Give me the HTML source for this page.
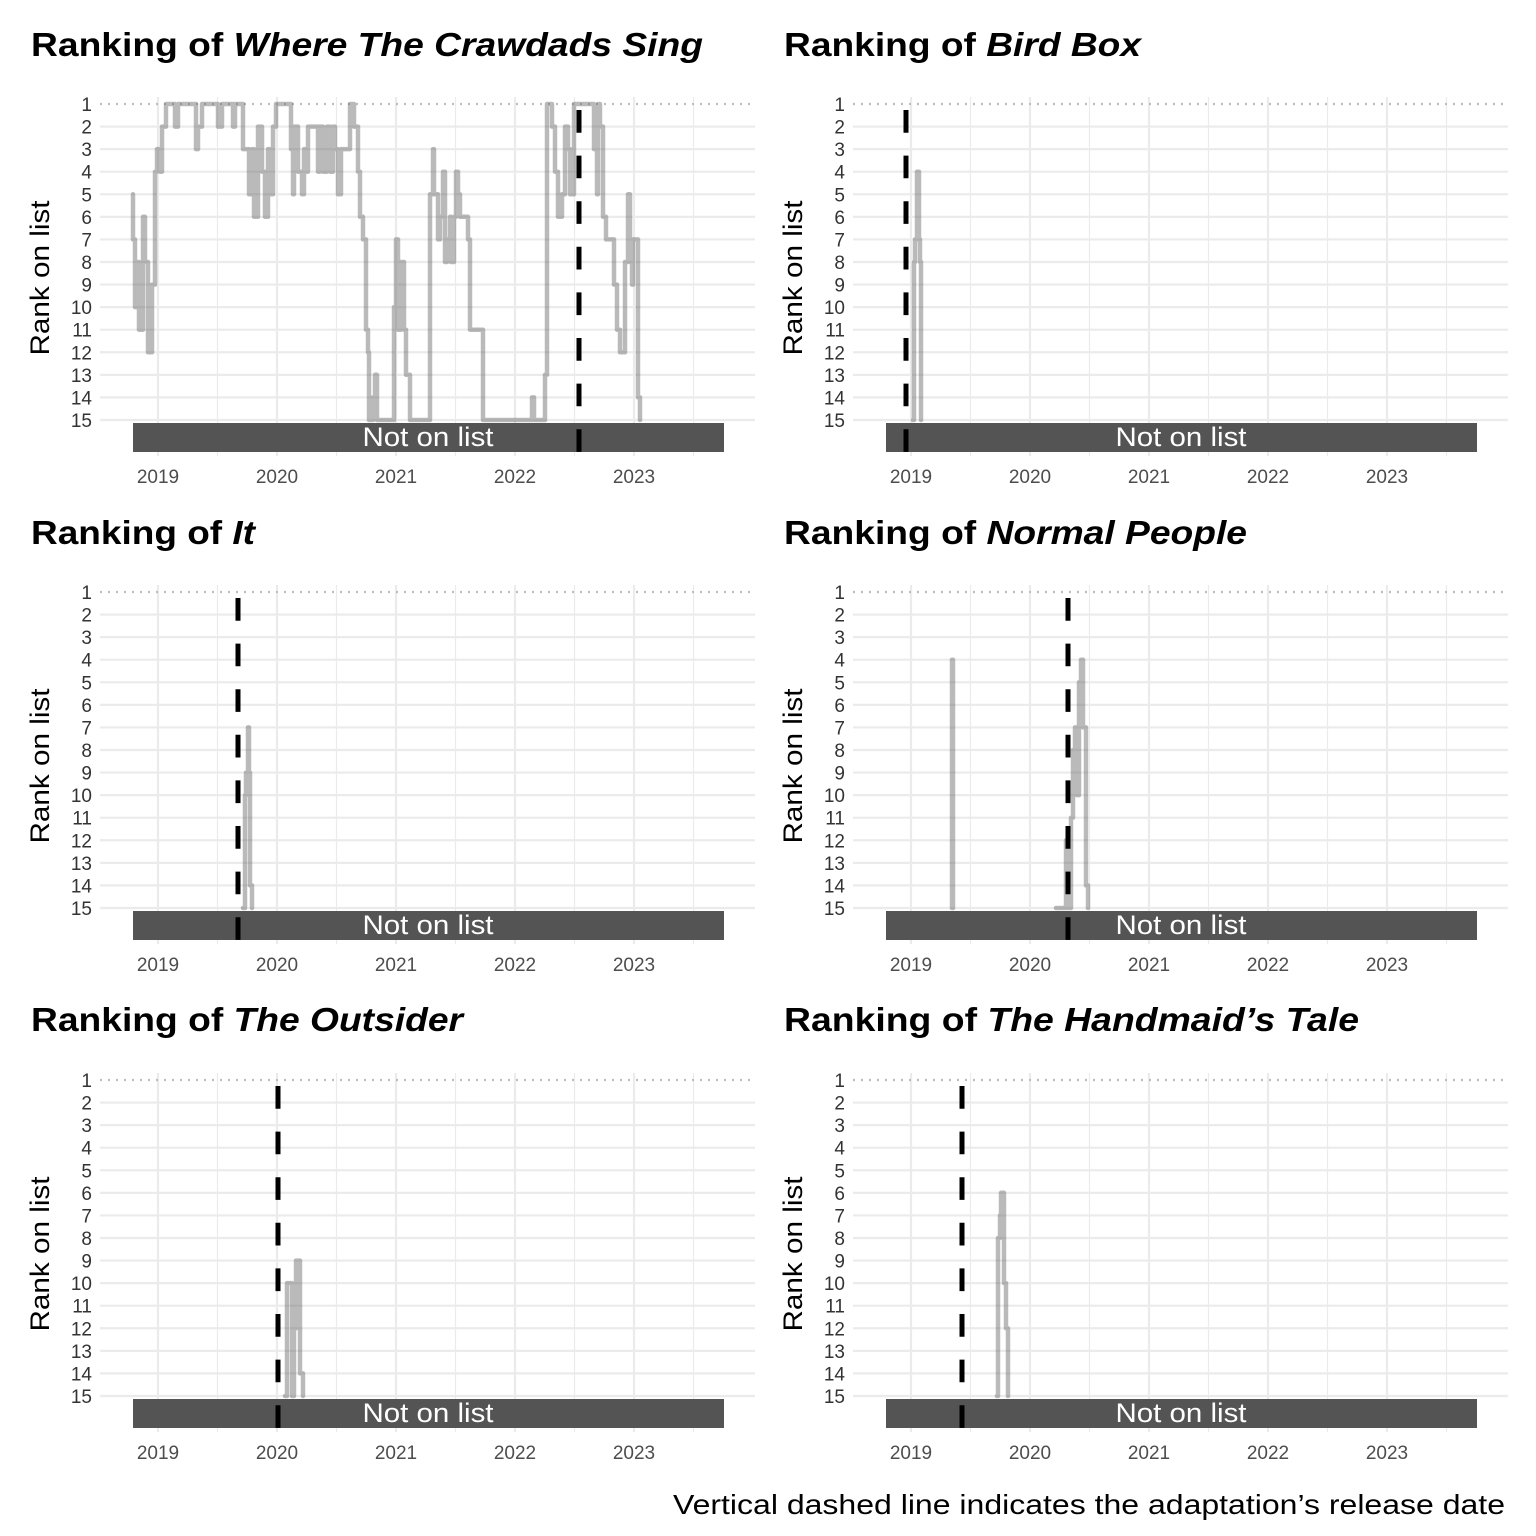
<!DOCTYPE html>
<html><head><meta charset="utf-8"><style>
html,body{margin:0;padding:0;background:#fff}
svg{display:block}
text{font-family:"Liberation Sans",Arial,sans-serif}
.t{font-size:33px;font-weight:bold;fill:#000}
.r{font-size:19px;fill:#333;text-anchor:end}
.yr{font-size:19px;fill:#4d4d4d;text-anchor:middle}
.yl{font-size:27px;fill:#000;text-anchor:middle}
.nl{font-size:27px;fill:#fff;text-anchor:middle}
</style></head><body>
<svg id="s" width="1536" height="1536" viewBox="0 0 1536 1536" xmlns="http://www.w3.org/2000/svg">
<g id="grid"></g>
<g id="lines"></g>
<g id="txt">
<text class="t" x="31" y="56" textLength="672" lengthAdjust="spacingAndGlyphs">Ranking of <tspan font-style="italic">Where The Crawdads Sing</tspan></text>
<text class="t" x="784" y="56" textLength="357" lengthAdjust="spacingAndGlyphs">Ranking of <tspan font-style="italic">Bird Box</tspan></text>
<text class="t" x="31" y="544" textLength="224" lengthAdjust="spacingAndGlyphs">Ranking of <tspan font-style="italic">It</tspan></text>
<text class="t" x="784" y="544" textLength="463" lengthAdjust="spacingAndGlyphs">Ranking of <tspan font-style="italic">Normal People</tspan></text>
<text class="t" x="31" y="1031" textLength="432" lengthAdjust="spacingAndGlyphs">Ranking of <tspan font-style="italic">The Outsider</tspan></text>
<text class="t" x="784" y="1031" textLength="575" lengthAdjust="spacingAndGlyphs">Ranking of <tspan font-style="italic">The Handmaid’s Tale</tspan></text>
<text class="yl" transform="translate(49,278) rotate(-90)" textLength="155" lengthAdjust="spacingAndGlyphs">Rank on list</text>
<text class="yl" transform="translate(802,278) rotate(-90)" textLength="155" lengthAdjust="spacingAndGlyphs">Rank on list</text>
<text class="yl" transform="translate(49,766) rotate(-90)" textLength="155" lengthAdjust="spacingAndGlyphs">Rank on list</text>
<text class="yl" transform="translate(802,766) rotate(-90)" textLength="155" lengthAdjust="spacingAndGlyphs">Rank on list</text>
<text class="yl" transform="translate(49,1254) rotate(-90)" textLength="155" lengthAdjust="spacingAndGlyphs">Rank on list</text>
<text class="yl" transform="translate(802,1254) rotate(-90)" textLength="155" lengthAdjust="spacingAndGlyphs">Rank on list</text>
<text x="673" y="1514" font-size="28" fill="#000" textLength="832" lengthAdjust="spacingAndGlyphs">Vertical dashed line indicates the adaptation’s release date</text>
</g>
<g id="tk"></g>
</svg>
<script>
var NS="http://www.w3.org/2000/svg";
function el(p,n,a,t){var e=document.createElementNS(NS,n);for(var k in a)e.setAttribute(k,a[k]);if(t!=null)e.textContent=t;document.getElementById(p).appendChild(e);return e;}
var offs=[[0,0],[753,0],[0,488],[753,488],[0,976],[753,976]];
function Y(r,oy){return 104+(r-1)*22.57+oy;}
offs.forEach(function(o){
 var ox=o[0],oy=o[1];
 for(var i=0;i<11;i++){var x=158+ox+i*59.5-59.5;if(x<100+ox||x>755+ox)continue;
  el("grid","line",{x1:x,x2:x,y1:97+oy,y2:456+oy,stroke:"#ebebeb","stroke-width":i%2?2.2:1.2});}
 for(var r=2;r<=15;r++){el("grid","line",{x1:100+ox,x2:755+ox,y1:Y(r,oy),y2:Y(r,oy),stroke:"#ebebeb","stroke-width":2.2});}
 el("grid","line",{x1:100+ox,x2:755+ox,y1:Y(1,oy),y2:Y(1,oy),stroke:"#bdbdbd","stroke-width":2.2,"stroke-dasharray":"2,6"});
 el("grid","rect",{x:133+ox,y:423+oy,width:591,height:29,fill:"#545454"});
 for(var r=1;r<=15;r++)el("tk","text",{"class":"r",x:92+ox,y:Y(r,oy)+7},String(r));
 ["2019","2020","2021","2022","2023"].forEach(function(s,i){el("tk","text",{"class":"yr",x:158+ox+i*119,y:483+oy},s);});
 var t=el("tk","text",{"class":"nl",x:428+ox,y:446+oy,textLength:131,lengthAdjust:"spacingAndGlyphs"},"Not on list");
});
function line(pts,ox,oy){var d="M"+(pts[0][0]+ox)+" "+Y(pts[0][1],oy).toFixed(1);
 for(var i=1;i<pts.length;i++){d+=" H"+(pts[i][0]+ox)+" V"+Y(pts[i][1],oy).toFixed(1);}
 el("lines","path",{d:d,fill:"none",stroke:"#666","stroke-opacity":0.45,"stroke-width":4.5,"stroke-linejoin":"round","stroke-linecap":"round"});}
function dash(x,oy){el("lines","line",{x1:x,x2:x,y1:110+oy,y2:462+oy,stroke:"#000","stroke-width":5,"stroke-dasharray":"22.7,22.9"});}
var p1=[[133,5],[133,7],[135,7],[135,10],[137,10],[137,8],[139,8],[139,11],[143,11],[143,6],[145,6],[145,8],[148,8],[148,12],[152,12],[152,9],[155,9],[155,4],[157,3],[160,3],[160,4],[162,2],[165,2],[166,1],[175,1],[175,2],[178,1],[196,1],[196,3],[198,2],[202,1],[218,1],[218,2],[222,1],[233,1],[233,2],[235,1],[240,1],[243,3],[248,3],[249,5],[252,3],[254,6],[257,6],[258,2],[262,4],[265,6],[268,3],[270,5],[273,2],[276,1],[288,1],[291,3],[293,5],[294,2],[298,4],[302,5],[304,3],[305,4],[308,2],[316,2],[318,4],[320,2],[323,4],[327,2],[330,4],[333,2],[335,3],[338,5],[341,3],[344,3],[350,1],[352,1],[354,2],[358,4],[360,6],[363,7],[366,11],[368,12],[369,15],[372,15],[373,14],[375,13],[377,15],[381,15],[386,15],[392,15],[394,10],[396,7],[398,7],[398,11],[401,8],[404,8],[404,11],[406,13],[410,15],[420,15],[428,15],[430,5],[433,3],[434,5],[437,5],[438,7],[440,6],[443,4],[445,8],[447,7],[450,6],[451,8],[454,6],[456,4],[458,5],[460,6],[465,6],[468,7],[470,11],[473,11],[477,11],[480,11],[483,15],[515,15],[517,15],[530,15],[532,14],[534,15],[540,15],[545,13],[547,1],[550,1],[552,2],[555,4],[558,6],[561,6],[562,5],[565,2],[568,3],[570,5],[574,1],[592,1],[594,3],[597,5],[598,1],[600,2],[603,6],[606,7],[610,7],[614,9],[617,11],[620,12],[624,12],[625,8],[628,5],[630,8],[632,9],[633,7],[636,7],[638,14],[640,15]];
line(p1,0,0);dash(579,0);
line([[913,15],[914,8],[915,7],[917,4],[919,7],[920,8],[921,15]],0,0);dash(906,0);
line([[243,15],[245,10],[246,9],[248,7],[249,9],[250,14],[252,15]],0,488);dash(238,488);
line([[952,15],[952,4],[953,4],[953,15]],0,488);
line([[1056,15],[1058,15],[1062,15],[1064,15],[1066,12],[1068,15],[1071,11],[1073,8],[1075,7],[1077,10],[1079,5],[1081,4],[1083,7],[1086,14],[1088,15]],0,488);dash(1068,488);
line([[285,15],[287,10],[291,10],[292,15],[294,12],[296,9],[298,9],[300,14],[302,14],[303,15]],0,976);dash(278,976);
line([[997,15],[998,8],[1000,7],[1001,6],[1003,6],[1004,10],[1006,12],[1008,15]],0,976);dash(962,976);
</script>
</body></html>
